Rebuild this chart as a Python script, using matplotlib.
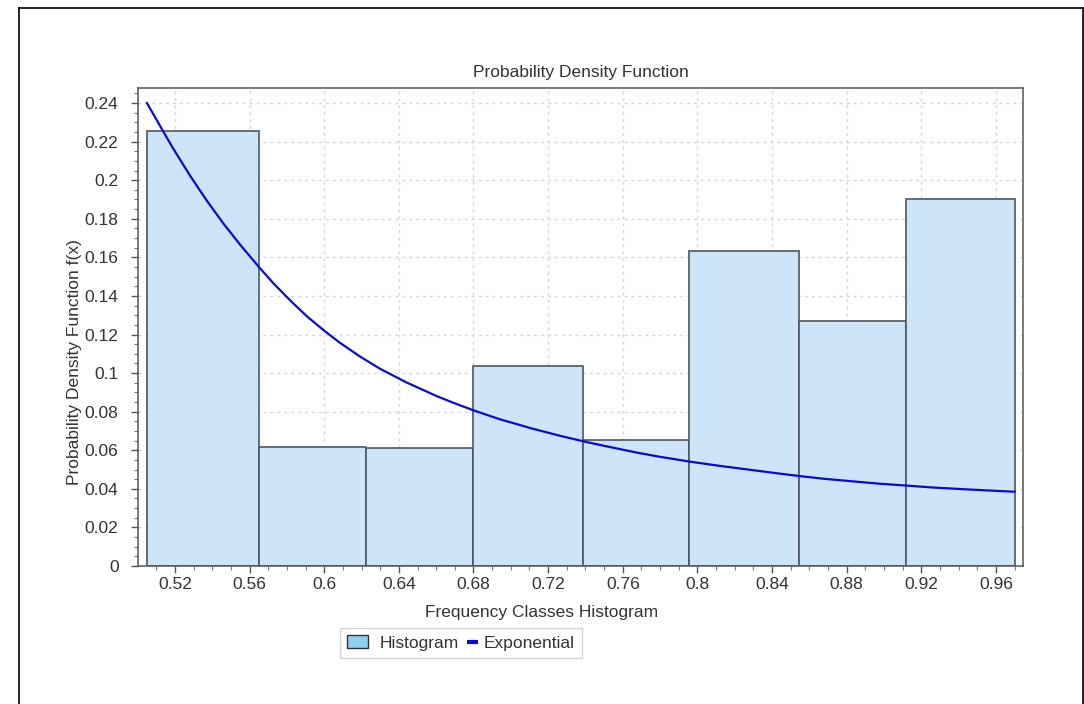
import matplotlib
matplotlib.use("Agg")
import matplotlib.pyplot as plt
from matplotlib.patches import Patch
from matplotlib.lines import Line2D
from matplotlib.legend_handler import HandlerBase
from matplotlib.ticker import AutoMinorLocator, FuncFormatter
import numpy as np

plt.rcParams['font.family'] = ['Liberation Sans', 'DejaVu Sans']

# Histogram bin edges and densities
bin_edges = [0.5050, 0.5650, 0.6224, 0.6799, 0.7387, 0.7955, 0.8542, 0.9117, 0.9702]
densities = [0.2253, 0.0615, 0.0614, 0.1035, 0.0651, 0.1633, 0.1270, 0.1900]

# Exponential fitted curve
curve_x = [0.505, 0.513, 0.519, 0.528, 0.537, 0.546, 0.555, 0.565, 0.573, 0.583,
           0.591, 0.600, 0.608, 0.619, 0.630, 0.644, 0.660, 0.670, 0.680, 0.694,
           0.712, 0.726, 0.739, 0.750, 0.768, 0.780, 0.796, 0.812, 0.824, 0.840,
           0.854, 0.868, 0.883, 0.897, 0.912, 0.926, 0.941, 0.955, 0.970]
curve_y = [0.2400, 0.2265, 0.2165, 0.2025, 0.1895, 0.1775, 0.1665, 0.1550, 0.1463, 0.1365,
           0.1292, 0.1220, 0.1160, 0.1087, 0.1022, 0.0952, 0.0882, 0.0843, 0.0807, 0.0761,
           0.0711, 0.0676, 0.0646, 0.0623, 0.0587, 0.0566, 0.0541, 0.0519, 0.0504, 0.0484,
           0.0467, 0.0452, 0.0439, 0.0427, 0.0417, 0.0407, 0.0399, 0.0392, 0.0385]

x_ticks = [0.52, 0.56, 0.60, 0.64, 0.68, 0.72, 0.76, 0.80, 0.84, 0.88, 0.92, 0.96]
y_ticks = [0, 0.02, 0.04, 0.06, 0.08, 0.10, 0.12, 0.14, 0.16, 0.18, 0.20, 0.22, 0.24]

W, H = 1084, 704
fig = plt.figure(figsize=(W / 100, H / 100), dpi=100)
fig.patch.set_facecolor('white')

# outer border
for xs, ys in [([19 / W, 19 / W], [0, 1 - 8 / H]),
               ([19 / W, 1], [1 - 8 / H, 1 - 8 / H]),
               ([1 - 1 / W, 1 - 1 / W], [0, 1 - 8 / H])]:
    fig.add_artist(Line2D(xs, ys, transform=fig.transFigure, color='black', lw=1.2))

left, right, top, bottom = 138, 1023, 88, 566
ax = fig.add_axes([left / W, 1 - bottom / H, (right - left) / W, (bottom - top) / H])

edges = np.array(bin_edges)
widths = np.diff(edges)
ax.bar(edges[:-1], densities, width=widths, align='edge', color='#cce5f9',
       edgecolor='#4f5660', linewidth=1.2, zorder=2)
ax.plot(curve_x, curve_y, color='#0a0ad2', lw=1.6, zorder=3)

ax.set_xlim(0.5002, 0.9745)
ax.set_ylim(0, 0.2478)
ax.set_xticks(x_ticks)
ax.set_yticks(y_ticks)
fmt = FuncFormatter(lambda v, p: '{:g}'.format(round(v, 4)))
ax.xaxis.set_major_formatter(fmt)
ax.yaxis.set_major_formatter(fmt)
ax.xaxis.set_minor_locator(AutoMinorLocator(4))
ax.yaxis.set_minor_locator(AutoMinorLocator(4))

ax.grid(True, which='major', color='#d4d4d4', linestyle=(0, (2, 3)), lw=1.0, zorder=0)
ax.set_axisbelow(True)
for s in ax.spines.values():
    s.set_color('#555555')
    s.set_linewidth(1.1)

ax.tick_params(axis='both', which='major', direction='out', length=5, width=1,
               color='#555555', labelsize=12.5, labelcolor='#333333')
ax.tick_params(axis='x', which='major', pad=3)
ax.tick_params(axis='y', which='major', pad=9)
ax.tick_params(axis='both', which='minor', direction='out', length=3, width=0.8, color='#777777')

ax.set_title('Probability Density Function', fontsize=12.5, color='#333333', pad=8)
fig.text(542 / W, 1 - 612 / H, 'Frequency Classes Histogram', ha='center', va='center',
         fontsize=12.5, color='#333333')
fig.text(75 / W, 1 - 362 / H, 'Probability Density Function f(x)', ha='center', va='center',
         rotation=90, fontsize=12.5, color='#333333')


class DashHandler(HandlerBase):
    def create_artists(self, legend, orig_handle, xdescent, ydescent, width, height,
                       fontsize, trans):
        y = height / 2 - ydescent
        ln = Line2D([-xdescent + 0.76 * width, -xdescent + 1.29 * width], [y, y],
                    color=orig_handle.get_color(), lw=3, solid_capstyle='butt')
        ln.set_transform(trans)
        return [ln]


dash = Line2D([0], [0], color='#0a0ad2', lw=3)
handles = [Patch(facecolor='#8dd0f2', edgecolor='#333333', linewidth=1.0), dash]
leg = fig.legend(handles, ['Histogram', 'Exponential'], loc='upper left',
                 bbox_to_anchor=(340 / W, 1 - 628 / H), ncol=2, frameon=True,
                 fancybox=False, edgecolor='#c8c8c8', fontsize=12.5,
                 handlelength=1.2, handleheight=0.8, handletextpad=0.69,
                 columnspacing=-0.45, borderpad=0.4, borderaxespad=0,
                 handler_map={Line2D: DashHandler()})
leg.get_frame().set_linewidth(1.0)
for t in leg.get_texts():
    t.set_color('#333333')

fig.savefig('out.png', dpi=100, facecolor='white')
